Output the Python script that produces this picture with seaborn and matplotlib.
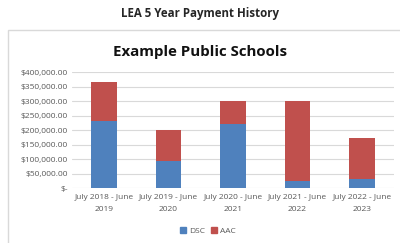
import pandas as pd
import matplotlib.pyplot as plt
import seaborn as sns
from matplotlib.patches import Rectangle
from matplotlib.ticker import FuncFormatter

# Chart values
periods = ['July 2018 - June\n2019', 'July 2019 - June\n2020', 'July 2020 - June\n2021',
           'July 2021 - June\n2022', 'July 2022 - June\n2023']
dsc = [230000, 92000, 220000, 25000, 30000]
aac = [135000, 108000, 80000, 275000, 144000]

df = pd.DataFrame({'Period': periods, 'DSC': dsc, 'AAC': aac})
df['Total'] = df['DSC'] + df['AAC']

sns.set_style('white')
plt.rcParams['font.family'] = ['Open Sans', 'DejaVu Sans']

blue = '#4F81BD'
red = '#C0504D'
grey = '#595959'

fig = plt.figure(figsize=(4, 2.43), dpi=100)
ax = fig.add_axes([0.18, 0.2263, 0.805, 0.4774])

# stacked bars: total in red, DSC drawn over it in blue
sns.barplot(data=df, x='Period', y='Total', color=red, width=0.4, saturation=1,
            linewidth=0, ax=ax)
sns.barplot(data=df, x='Period', y='DSC', color=blue, width=0.4, saturation=1,
            linewidth=0, ax=ax)

ax.set_ylim(0, 400000)
ax.set_yticks(range(0, 400001, 50000))
ax.yaxis.set_major_formatter(FuncFormatter(lambda v, p: '$-' if v == 0 else f'${v:,.2f}'))
ax.grid(axis='y', color='#D9D9D9', linewidth=0.8)
ax.set_axisbelow(True)
for s in ax.spines.values():
    s.set_visible(False)
ax.set_xlabel('')
ax.set_ylabel('')
ax.tick_params(axis='y', length=0, labelsize=6, labelcolor=grey, pad=3)
ax.tick_params(axis='x', length=0, labelsize=6, labelcolor=grey, pad=4)
for t in ax.get_xticklabels():
    t.set_linespacing(2.1)

# outer box and titles
fig.patches.append(Rectangle((0.02, -0.01), 1.0, 0.885, transform=fig.transFigure,
                             fill=False, edgecolor='#D9D9D9', linewidth=1))
fig.text(0.5, 0.945, 'LEA 5 Year Payment History', ha='center', va='center',
         fontsize=8.3, fontweight='bold')
fig.text(0.5, 0.785, 'Example Public Schools', ha='center', va='center',
         fontsize=10.8, fontweight='bold', color='#111111')

handles = [Rectangle((0, 0), 1, 1, color=blue), Rectangle((0, 0), 1, 1, color=red)]
fig.legend(handles, ['DSC', 'AAC'], loc='center', bbox_to_anchor=(0.52, 0.05), ncol=2,
           frameon=False, fontsize=6, labelcolor=grey, handlelength=0.7, handleheight=0.7,
           handletextpad=0.3, columnspacing=0.8)

fig.savefig('out.png', dpi=100)
